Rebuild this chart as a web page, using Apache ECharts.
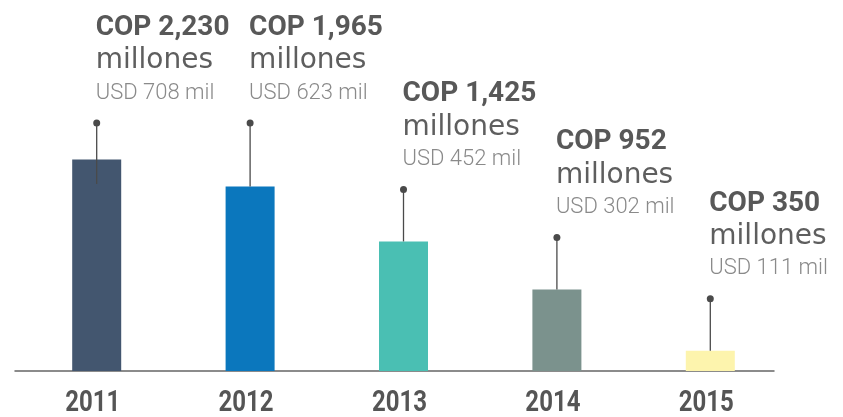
<!DOCTYPE html>
<html>
<head>
<meta charset="utf-8">
<script src="https://cdn.jsdelivr.net/npm/echarts@6/dist/echarts.min.js"></script>
<style>
html,body{margin:0;padding:0;background:#fff;}
#c{width:843px;height:417px;}
</style>
</head>
<body>
<div id="c"></div>
<script>
const years = ['2011', '2012', '2013', '2014', '2015'];
const copValues = [2230, 1965, 1425, 952, 350];
const usdValues = [708, 623, 452, 302, 111];
const barColors = ['#43566f', '#0b77bd', '#4abfb3', '#7b928d', '#fdf4ad'];

const yMin = 150, yMax = 2600;
const chart = echarts.init(document.getElementById('c'), null, {renderer: 'canvas'});

const annData = years.map((y, i) => [i, copValues[i], usdValues[i]]);

function renderAnn(params, api) {
  const idx = api.value(0);
  const v = api.value(1);
  const usd = api.value(2);
  const p = api.coord([idx, v]);
  const x = p[0], barTop = p[1];
  const baseY = api.coord([idx, yMin])[1];
  const capY = api.coord([idx, yMax])[1] + 1;
  let dotY = barTop - 52;
  let capped = false;
  // snap labels that come near the top row onto the top row
  if (dotY < capY + 15) { dotY = capY; capped = true; }
  const lineEnd = capped ? Math.max(barTop, dotY + 61) : barTop;
  const tx = x - 1;
  return {
    type: 'group',
    children: [
      {type: 'line', shape: {x1: x, y1: dotY, x2: x, y2: lineEnd},
       style: {stroke: '#4a4a4a', lineWidth: 1.3}},
      {type: 'circle', shape: {cx: x, cy: dotY, r: 3.5},
       style: {fill: '#4a4a4a'}},
      {type: 'text', x: tx, y: dotY - 95,
       style: {text: 'COP ' + v.toLocaleString('en-US'), fontFamily: 'Roboto', fontWeight: 'bold',
               fontSize: 28, fill: '#585858', align: 'left', verticalAlign: 'middle'}},
      {type: 'text', x: tx, y: dotY - 62,
       style: {text: 'millones', fontFamily: 'DejaVu Sans', fontSize: 28,
               fill: '#5e5e5e', align: 'left', verticalAlign: 'middle'}},
      {type: 'text', x: tx, y: dotY - 30,
       style: {text: 'USD ' + usd + ' mil', fontFamily: 'Roboto', fontWeight: 300, fontSize: 22,
               fill: '#8a8a8a', align: 'left', verticalAlign: 'middle'}},
      {type: 'text', x: x - 4, y: baseY + 32, scaleX: 0.8,
       style: {text: years[idx], fontFamily: 'Roboto', fontWeight: 'bold', fontSize: 30,
               fill: '#555', align: 'center', verticalAlign: 'middle'}}
    ]
  };
}

chart.setOption({
  animation: false,
  grid: [
    {left: 20, right: 56, top: 122, bottom: 46},
    {left: 15, right: 69, top: 122, bottom: 46}
  ],
  xAxis: [
    {type: 'category', gridIndex: 0, data: years,
     axisLine: {show: false}, axisTick: {show: false}, axisLabel: {show: false}},
    {type: 'value', gridIndex: 1, min: 0, max: 1,
     axisLine: {show: true, lineStyle: {color: '#666', width: 1.5}},
     axisTick: {show: false}, axisLabel: {show: false}, splitLine: {show: false}}
  ],
  yAxis: [
    {type: 'value', gridIndex: 0, min: yMin, max: yMax, show: false, splitLine: {show: false}},
    {type: 'value', gridIndex: 1, min: 0, max: 1, show: false, splitLine: {show: false}}
  ],
  series: [
    {type: 'bar', xAxisIndex: 0, yAxisIndex: 0, barWidth: 49,
     data: copValues.map((v, i) => ({value: v, itemStyle: {color: barColors[i]}})),
     z: 2},
    {type: 'custom', xAxisIndex: 0, yAxisIndex: 0, clip: false, z: 3,
     data: annData, renderItem: renderAnn}
  ]
});
</script>
</body>
</html>
